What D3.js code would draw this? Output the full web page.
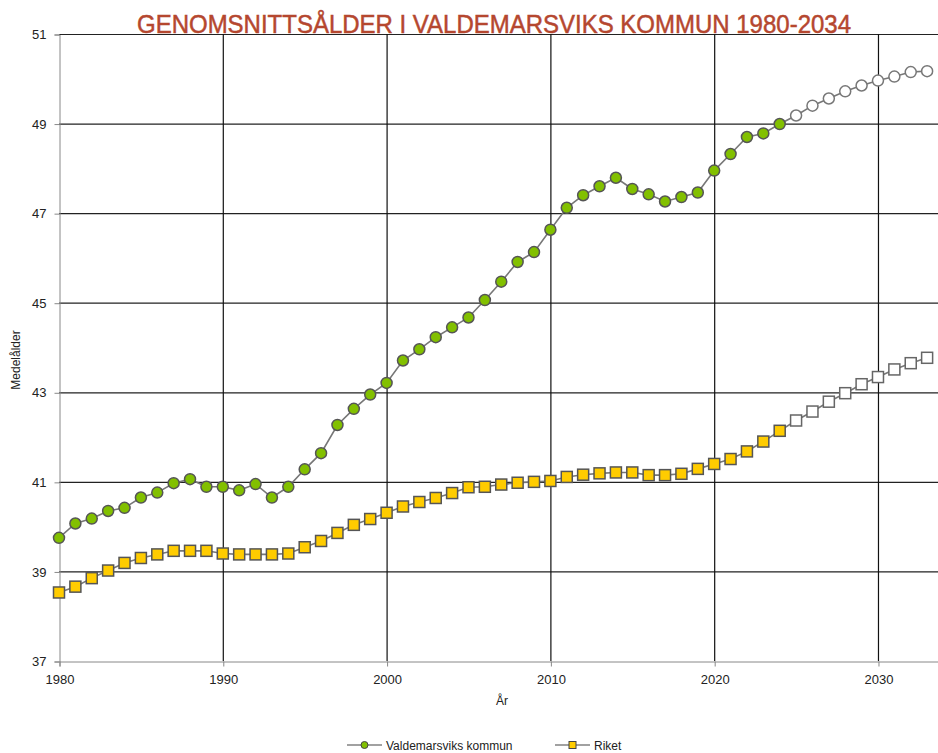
<!DOCTYPE html>
<html>
<head>
<meta charset="utf-8">
<script src="https://cdn.jsdelivr.net/npm/d3@7"></script>
<style>
  body { margin: 0; background: #fff; overflow: hidden; }
  svg { display: block; font-family: "Liberation Sans", Arial, sans-serif; }
</style>
</head>
<body>
<svg id="chart" width="938" height="753"></svg>
<script>
const years = d3.range(1980, 2034); // 1980..2033
const firstForecast = 2025;

const valdemarsvik = [
  39.75, 40.07, 40.18, 40.35, 40.42, 40.65, 40.76, 40.97, 41.06, 40.89,
  40.89, 40.81, 40.95, 40.65, 40.89, 41.28, 41.64, 42.27, 42.63, 42.95,
  43.21, 43.71, 43.96, 44.23, 44.45, 44.67, 45.06, 45.47, 45.91, 46.13,
  46.63, 47.12, 47.40, 47.60, 47.79, 47.54, 47.42, 47.26, 47.36, 47.46,
  47.95, 48.32, 48.70, 48.78, 48.99, 49.18, 49.40, 49.56, 49.72, 49.85,
  49.96, 50.05, 50.15, 50.17
];

const riket = [
  38.53, 38.66, 38.85, 39.02, 39.19, 39.30, 39.38, 39.46, 39.46, 39.46,
  39.40, 39.38, 39.38, 39.38, 39.40, 39.54, 39.68, 39.86, 40.04, 40.17,
  40.31, 40.45, 40.55, 40.64, 40.75, 40.88, 40.89, 40.94, 40.98, 41.00,
  41.02, 41.11, 41.16, 41.19, 41.21, 41.21, 41.15, 41.15, 41.18, 41.29,
  41.40, 41.51, 41.68, 41.90, 42.14, 42.37, 42.57, 42.79, 42.98, 43.18,
  43.34, 43.51, 43.65, 43.77
];

const yTicks = [37, 39, 41, 43, 45, 47, 49, 51];
const xTicks = [1980, 1990, 2000, 2010, 2020, 2030];
const seriesNames = ["Valdemarsviks kommun", "Riket"];

const svg = d3.select("#chart");
const plotLeft = 59, plotTop = 34, plotBottom = 661, plotRight = 943.5;

const x = d3.scaleLinear().domain([1980, 2034]).range([plotLeft, plotRight]);
const y = d3.scaleLinear().domain([37, 51]).range([plotBottom, plotTop]);

// title
svg.append("text")
  .attr("x", 494).attr("y", 33)
  .attr("text-anchor", "middle")
  .attr("font-family", "'Liberation Sans Narrow', 'Liberation Sans', sans-serif")
  .attr("font-size", 26)
  .attr("fill", "#B5472F")
  .attr("stroke", "#B5472F").attr("stroke-width", 0.5)
  .attr("textLength", 714)
  .attr("lengthAdjust", "spacingAndGlyphs")
  .text("GENOMSNITTSÅLDER I VALDEMARSVIKS KOMMUN 1980-2034");

// gridlines
const grid = svg.append("g");
grid.selectAll("line.h").data(yTicks.slice(1)).join("line")
  .attr("x1", plotLeft).attr("x2", plotRight)
  .attr("y1", d => y(d) + 0.5).attr("y2", d => y(d) + 0.5)
  .attr("stroke", "#222").attr("stroke-width", 1.2);
grid.selectAll("line.v").data(xTicks.slice(1)).join("line")
  .attr("y1", plotTop).attr("y2", plotBottom)
  .attr("x1", d => x(d) + 0.5).attr("x2", d => x(d) + 0.5)
  .attr("stroke", "#111").attr("stroke-width", 1.2);

// axes
const yAxis = svg.append("g")
  .attr("transform", `translate(${plotLeft + 0.5},0.5)`)
  .call(d3.axisLeft(y).tickValues(yTicks).tickSize(5).tickPadding(8));
const xAxis = svg.append("g")
  .attr("transform", `translate(0.5,${plotBottom + 0.5})`)
  .call(d3.axisBottom(x).tickValues(xTicks).tickFormat(d3.format("d")).tickSize(5).tickPadding(8));
[yAxis, xAxis].forEach(a => {
  a.select(".domain").attr("stroke", "#888");
  a.selectAll(".tick line").attr("stroke", "#888");
  a.selectAll("text").attr("font-size", 13).attr("fill", "#222")
    .attr("font-family", "'Liberation Sans', Arial, sans-serif");
});

svg.append("text")
  .attr("transform", "translate(20,360) rotate(-90)")
  .attr("text-anchor", "middle").attr("font-size", 12).attr("fill", "#222")
  .text("Medelålder");
svg.append("text")
  .attr("x", 502).attr("y", 705)
  .attr("text-anchor", "middle").attr("font-size", 12).attr("fill", "#222")
  .text("År");

// series
const line = d3.line().x((d, i) => x(years[i])).y(d => y(d));
const plot = svg.append("g");

function drawSeries(values, shape, fill) {
  plot.append("path").datum(values)
    .attr("d", line).attr("fill", "none")
    .attr("stroke", "#777").attr("stroke-width", 1.6);
  const pts = values.map((v, i) => ({ year: years[i], v: v }));
  const g = plot.append("g");
  if (shape === "circle") {
    g.selectAll("circle").data(pts).join("circle")
      .attr("cx", d => x(d.year)).attr("cy", d => y(d.v))
      .attr("r", 5.5)
      .attr("fill", d => d.year >= firstForecast ? "#fff" : fill)
      .attr("stroke", d => d.year >= firstForecast ? "#777" : "#555")
      .attr("stroke-width", 1.5);
  } else {
    g.selectAll("rect").data(pts).join("rect")
      .attr("x", d => x(d.year) - 5.5).attr("y", d => y(d.v) - 5.5)
      .attr("width", 11).attr("height", 11)
      .attr("fill", d => d.year >= firstForecast ? "#fff" : fill)
      .attr("stroke", d => d.year >= firstForecast ? "#666" : "#555")
      .attr("stroke-width", 1.5);
  }
}
drawSeries(valdemarsvik, "circle", "#82C000");
drawSeries(riket, "square", "#FFCC00");

// legend
const legend = svg.append("g").attr("transform", "translate(0,745)");
const legendItems = [
  { name: seriesNames[0], x0: 347, shape: "circle", fill: "#82C000" },
  { name: seriesNames[1], x0: 555, shape: "square", fill: "#FFCC00" }
];
legendItems.forEach(it => {
  legend.append("line").attr("x1", it.x0).attr("x2", it.x0 + 35)
    .attr("y1", 0).attr("y2", 0).attr("stroke", "#444").attr("stroke-width", 1.2);
  if (it.shape === "circle") {
    legend.append("circle").attr("cx", it.x0 + 17.5).attr("cy", 0).attr("r", 3.5)
      .attr("fill", it.fill).attr("stroke", "#444");
  } else {
    legend.append("rect").attr("x", it.x0 + 14).attr("y", -3.5).attr("width", 7).attr("height", 7)
      .attr("fill", it.fill).attr("stroke", "#444");
  }
  legend.append("text").attr("x", it.x0 + 39).attr("y", 4.5)
    .attr("font-size", 12).attr("fill", "#222").text(it.name);
});
</script>
</body>
</html>
